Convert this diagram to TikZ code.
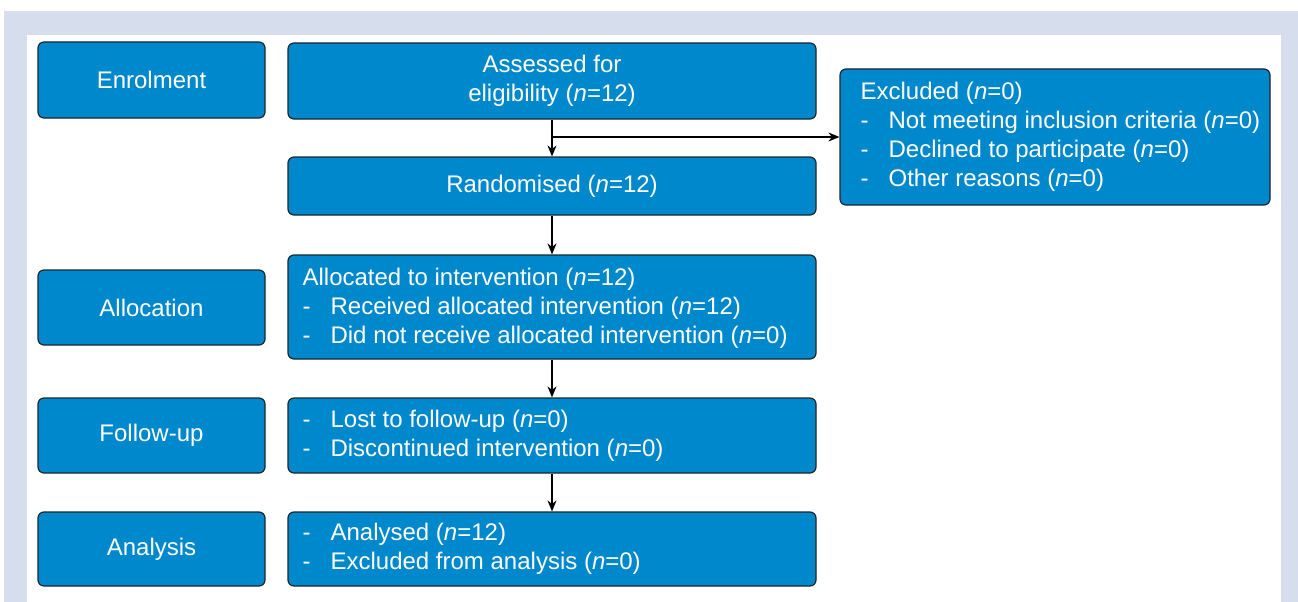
\documentclass[tikz,border=0pt]{standalone}
\usepackage{fontspec}
\setmainfont{Liberation Sans}
\usepackage{xcolor}
\usepackage{tikz}
\usetikzlibrary{arrows.meta}

\definecolor{boxblue}{RGB}{0,136,204}
\definecolor{boxline}{RGB}{28,38,48}
\definecolor{framebg}{RGB}{214,222,238}
\newcommand{\nval}[1]{(\textit{n}=#1)}
\newcommand{\itm}{\makebox[28pt][l]{-}}

\begin{document}
\begin{tikzpicture}[x=1pt,y=-1pt,
  box/.style={draw=boxline, line width=1.2pt, fill=boxblue, rounded corners=6pt,
    text=white, inner sep=0pt, align=center, font=\fontsize{24}{29}\selectfont},
  boxtext/.style={text=white, inner sep=0pt, align=left, anchor=west,
    font=\fontsize{24}{29}\selectfont},
  flow/.style={-{Stealth[length=11pt,width=9pt]}, line width=1.3pt}]
\useasboundingbox (0,0) rectangle (1298,602);
\fill[framebg] (4,11) rectangle (1298,602);
\fill[white] (27,35) rectangle (1281,602);

% stage labels
\node[box, minimum width=227, minimum height=76] (enrol) at (151.5,80) {Enrolment};
\node[box, minimum width=227, minimum height=75] (allocl) at (151.5,307.5) {Allocation};
\node[box, minimum width=227, minimum height=75] (followl) at (151.5,435.5) {Follow-up};
\node[box, minimum width=227, minimum height=74] (analysl) at (151.5,549) {Analysis};

% main column
\node[box, minimum width=528, minimum height=76] (assess) at (552,81)
  {Assessed for\\eligibility \nval{12}};
\node[box, minimum width=528, minimum height=58] (rand) at (552,186)
  {Randomised \nval{12}};
\node[box, minimum width=528, minimum height=104] (alloc) at (552,307) {};
\node[boxtext] (alloctxt) at ([xshift=15pt,yshift=-1pt]alloc.west)
  {Allocated to intervention \nval{12}\\
   \itm Received allocated intervention \nval{12}\\
   \itm Did not receive allocated intervention \nval{0}};
\node[box, minimum width=528, minimum height=75] (follow) at (552,435.5) {};
\node[boxtext] (followtxt) at ([xshift=15pt]follow.west)
  {\itm Lost to follow-up \nval{0}\\
   \itm Discontinued intervention \nval{0}};
\node[box, minimum width=528, minimum height=74] (analys) at (552,549) {};
\node[boxtext] (analystxt) at ([xshift=15pt]analys.west)
  {\itm Analysed \nval{12}\\
   \itm Excluded from analysis \nval{0}};

% exclusions
\node[box, minimum width=430, minimum height=136] (excl) at (1055,137) {};
\node[boxtext] (excltxt) at ([xshift=21pt]excl.west)
  {Excluded \nval{0}\\
   \itm Not meeting inclusion criteria \nval{0}\\
   \itm Declined to participate \nval{0}\\
   \itm Other reasons \nval{0}};

\coordinate (split) at (assess.south |- excl.west);
\draw[flow] (assess) -- (rand);
\draw[flow] (split) -- (excl);
\draw[flow] (rand) -- (alloc);
\draw[flow] (alloc) -- (follow);
\draw[flow] (follow) -- (analys);
\end{tikzpicture}
\end{document}
